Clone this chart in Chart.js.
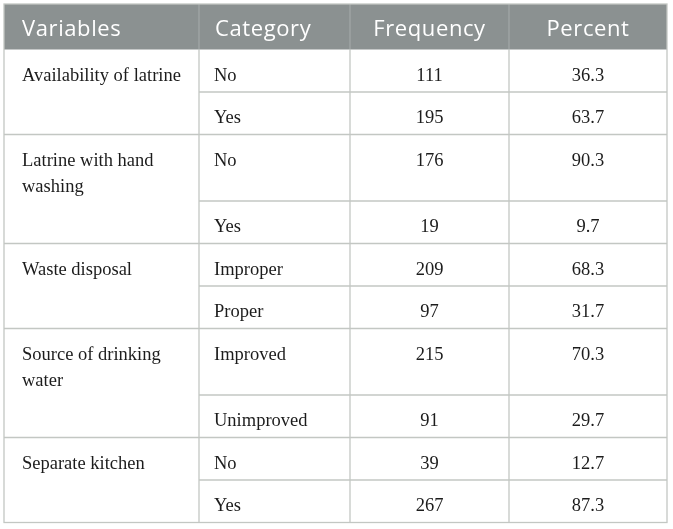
<!DOCTYPE html>
<html>
<head>
<meta charset="utf-8">
<script src="https://cdn.jsdelivr.net/npm/chart.js@4/dist/chart.umd.min.js"></script>
<style>
  html, body { margin: 0; padding: 0; background: #fff; }
  #wrap { width: 673px; height: 529px; }
</style>
</head>
<body>
<div id="wrap"><canvas id="tableChart"></canvas></div>
<script>
const headers = ['Variables', 'Category', 'Frequency', 'Percent'];
const variables = ['Availability of latrine', 'Latrine with hand washing', 'Waste disposal', 'Source of drinking water', 'Separate kitchen'];
const categories = ['No', 'Yes', 'No', 'Yes', 'Improper', 'Proper', 'Improved', 'Unimproved', 'No', 'Yes'];
const frequency = [111, 195, 176, 19, 209, 97, 215, 91, 39, 267];
const percent = [36.3, 63.7, 90.3, 9.7, 68.3, 31.7, 70.3, 29.7, 12.7, 87.3];
const rowsPerVariable = 2;

// layout (px units on both scales)
const tableLeft = 4, tableTop = 4;
const colWidths = [195, 151, 159, 158];
const headerHeight = 45.5, rowHeight = 42.5, extraLine = 24;
const bodyFont = '18.5px "Liberation Serif", "Times New Roman", serif';
const headFont = '22px "Open Sans", sans-serif';

function wrapText(ctx, text, maxWidth) {
  const words = text.split(' ');
  const lines = [];
  let line = '';
  words.forEach(w => {
    const test = line ? line + ' ' + w : w;
    if (ctx.measureText(test).width > maxWidth && line) {
      lines.push(line);
      line = w;
    } else {
      line = test;
    }
  });
  lines.push(line);
  return lines;
}

const measureCtx = document.createElement('canvas').getContext('2d');
measureCtx.font = bodyFont;
const variableLines = variables.map(v => wrapText(measureCtx, v, colWidths[0] - 20));

const colEdges = [tableLeft];
colWidths.forEach(w => colEdges.push(colEdges[colEdges.length - 1] + w));

const rowEdges = [tableTop, tableTop + headerHeight];
categories.forEach((c, i) => {
  let h = rowHeight;
  if (i % rowsPerVariable === 0) {
    h += (variableLines[i / rowsPerVariable].length - 1) * extraLine;
  }
  rowEdges.push(rowEdges[rowEdges.length - 1] + h);
});

const tablePlugin = {
  id: 'tablePlugin',
  afterDraw(chart) {
    const ctx = chart.ctx;
    const x = v => chart.scales.x.getPixelForValue(v);
    const y = v => chart.scales.y.getPixelForValue(v);
    const left = x(colEdges[0]), right = x(colEdges[colEdges.length - 1]);
    const top = y(rowEdges[0]), headBottom = y(rowEdges[1]);
    const bottom = y(rowEdges[rowEdges.length - 1]);

    ctx.save();
    // header
    ctx.fillStyle = '#8b9191';
    ctx.fillRect(left, top, right - left, headBottom - top);
    ctx.strokeStyle = '#a7acac';
    ctx.lineWidth = 1;
    for (let c = 1; c < colEdges.length - 1; c++) {
      ctx.beginPath();
      ctx.moveTo(x(colEdges[c]), top);
      ctx.lineTo(x(colEdges[c]), headBottom);
      ctx.stroke();
    }

    // body grid
    ctx.strokeStyle = '#c3c7c3';
    ctx.lineWidth = 1.3;
    for (let r = 1; r < categories.length; r++) {
      const yy = y(rowEdges[r + 1]);
      const startX = r % rowsPerVariable === 0 ? left : x(colEdges[1]);
      ctx.beginPath();
      ctx.moveTo(startX, yy);
      ctx.lineTo(right, yy);
      ctx.stroke();
    }
    for (let c = 1; c < colEdges.length - 1; c++) {
      ctx.beginPath();
      ctx.moveTo(x(colEdges[c]), headBottom);
      ctx.lineTo(x(colEdges[c]), bottom);
      ctx.stroke();
    }
    ctx.strokeRect(left, top, right - left, bottom - top);

    // header text
    ctx.fillStyle = '#ffffff';
    ctx.font = headFont;
    ctx.letterSpacing = '0.6px';
    ctx.textBaseline = 'alphabetic';
    headers.forEach((h, c) => {
      if (c < 2) {
        ctx.textAlign = 'left';
        ctx.fillText(h, x(colEdges[c]) + (c === 0 ? 18 : 16), top + 32);
      } else {
        ctx.textAlign = 'center';
        ctx.fillText(h, (x(colEdges[c]) + x(colEdges[c + 1])) / 2, top + 32);
      }
    });
    ctx.letterSpacing = '0px';

    // body text
    ctx.fillStyle = '#1c1c1c';
    ctx.font = bodyFont;
    variableLines.forEach((lines, g) => {
      const rowTop = y(rowEdges[1 + g * rowsPerVariable]);
      ctx.textAlign = 'left';
      lines.forEach((line, l) => {
        ctx.fillText(line, x(colEdges[0]) + 18, rowTop + 31 + l * 26.5);
      });
    });
    categories.forEach((cat, r) => {
      const rowTop = y(rowEdges[r + 1]);
      ctx.textAlign = 'left';
      ctx.fillText(cat, x(colEdges[1]) + 15, rowTop + 31);
      ctx.textAlign = 'center';
      ctx.fillText(String(frequency[r]), (x(colEdges[2]) + x(colEdges[3])) / 2, rowTop + 31);
      ctx.fillText(percent[r].toFixed(1), (x(colEdges[3]) + x(colEdges[4])) / 2, rowTop + 31);
    });
    ctx.restore();
  }
};

new Chart(document.getElementById('tableChart'), {
  type: 'scatter',
  data: { datasets: [{ data: [], pointRadius: 0 }] },
  options: {
    responsive: true,
    maintainAspectRatio: false,
    animation: false,
    layout: { padding: 0 },
    plugins: { legend: { display: false }, tooltip: { enabled: false } },
    scales: {
      x: { type: 'linear', display: false, min: 0, max: 673 },
      y: { type: 'linear', display: false, min: 0, max: 529, reverse: true }
    }
  },
  plugins: [tablePlugin]
});
</script>
</body>
</html>
